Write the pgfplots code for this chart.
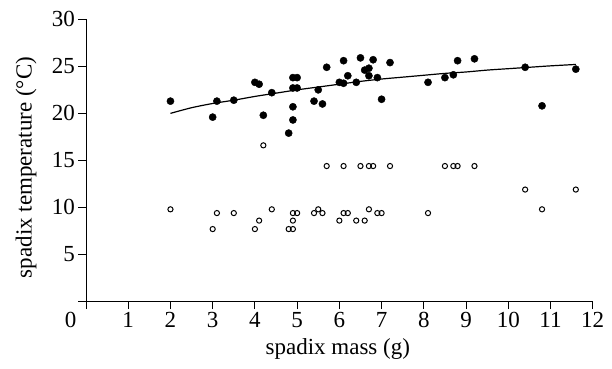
\documentclass[border=0pt]{standalone}
\usepackage{fontspec}
\setmainfont{Liberation Serif}
\usepackage{pgfplots}
\pgfplotsset{compat=1.18}
\begin{document}
\begin{tikzpicture}
\useasboundingbox (-86bp,-67.5bp) rectangle (526bp,301.5bp);
\begin{axis}[
  at={(0,0)}, anchor=south west,
  scale only axis, width=506.7bp, height=282.2bp,
  xmin=0, xmax=12, ymin=0, ymax=30,
  axis lines=left,
  axis line style={-, line width=0.9bp},
  tick align=outside, major tick length=7.5bp,
  tick style={line width=0.9bp, black},
  xtick={0,1,...,12},
  xticklabels={\makebox[0pt][r]{0\hspace{9.75bp}},1,2,3,4,5,6,7,8,9,10,11,12},
  ytick={0,5,...,30},
  yticklabels={{},5,10,15,20,25,30},
  /pgf/number format/assume math mode=true,
  tick label style={font=\fontsize{23bp}{26bp}\selectfont},
  label style={font=\fontsize{23bp}{26bp}\selectfont},
  xlabel={spadix mass (g)},
  ylabel={spadix temperature (°C)},
  xlabel style={at={(axis description cs:0.497,-0.168)}, anchor=center},
  ylabel style={at={(axis description cs:-0.118,0.475)}, anchor=center, rotate=0},
  clip=false,
]
% open circles
\addplot[only marks, mark=o, mark size=2.6bp, mark options={line width=1bp, fill=white, draw=black}] coordinates {
(2.0,9.8) (3.0,7.7) (3.1,9.4) (3.5,9.4) (4.0,7.7) (4.1,8.6) (4.2,16.6) (4.4,9.8)
(4.8,7.7) (4.9,7.7) (4.9,8.6) (4.9,9.4) (5.0,9.4) (5.4,9.4) (5.5,9.8) (5.6,9.4)
(5.7,14.4) (6.0,8.6) (6.1,9.4) (6.1,14.4) (6.2,9.4) (6.4,8.6) (6.5,14.4) (6.6,8.6)
(6.7,9.8) (6.7,14.4) (6.8,14.4) (6.9,9.4) (7.0,9.4) (7.2,14.4) (8.1,9.4) (8.5,14.4)
(8.7,14.4) (8.8,14.4) (9.2,14.4) (10.4,11.9) (10.8,9.8) (11.6,11.9)
};
% filled circles
\addplot[only marks, mark=*, mark size=3.6bp, mark options={fill=black, draw=black}] coordinates {
(2.0,21.3) (3.0,19.6) (3.1,21.3) (3.5,21.4) (4.0,23.3) (4.1,23.1) (4.2,19.8) (4.4,22.2)
(4.8,17.9) (4.9,23.8) (5.0,23.8) (4.9,22.7) (5.0,22.7) (4.9,20.7) (4.9,19.3) (5.4,21.3)
(5.5,22.5) (5.6,21.0) (5.7,24.9) (6.0,23.3) (6.1,23.2) (6.1,25.6) (6.2,24.0) (6.4,23.3)
(6.5,25.9) (6.6,24.6) (6.7,24.8) (6.7,24.0) (6.8,25.7) (6.9,23.8) (7.0,21.5) (7.2,25.4)
(8.1,23.3) (8.5,23.8) (8.7,24.1) (8.8,25.6) (9.2,25.8) (10.4,24.9) (10.8,20.8) (11.6,24.7)
};
% fitted curve
\addplot[black, line width=1.2bp, smooth, no marks] coordinates {
(2.0,20.0) (2.5,20.6) (3.0,21.05) (3.5,21.4) (4.0,21.8) (4.5,22.15) (5.0,22.5)
(5.5,22.8) (6.0,23.1) (6.5,23.4) (7.0,23.65) (7.5,23.85) (8.0,24.05) (8.5,24.25)
(9.0,24.4) (9.5,24.6) (10.0,24.75) (10.5,24.9) (11.0,25.05) (11.6,25.2)
};
\end{axis}
\end{tikzpicture}
\end{document}
